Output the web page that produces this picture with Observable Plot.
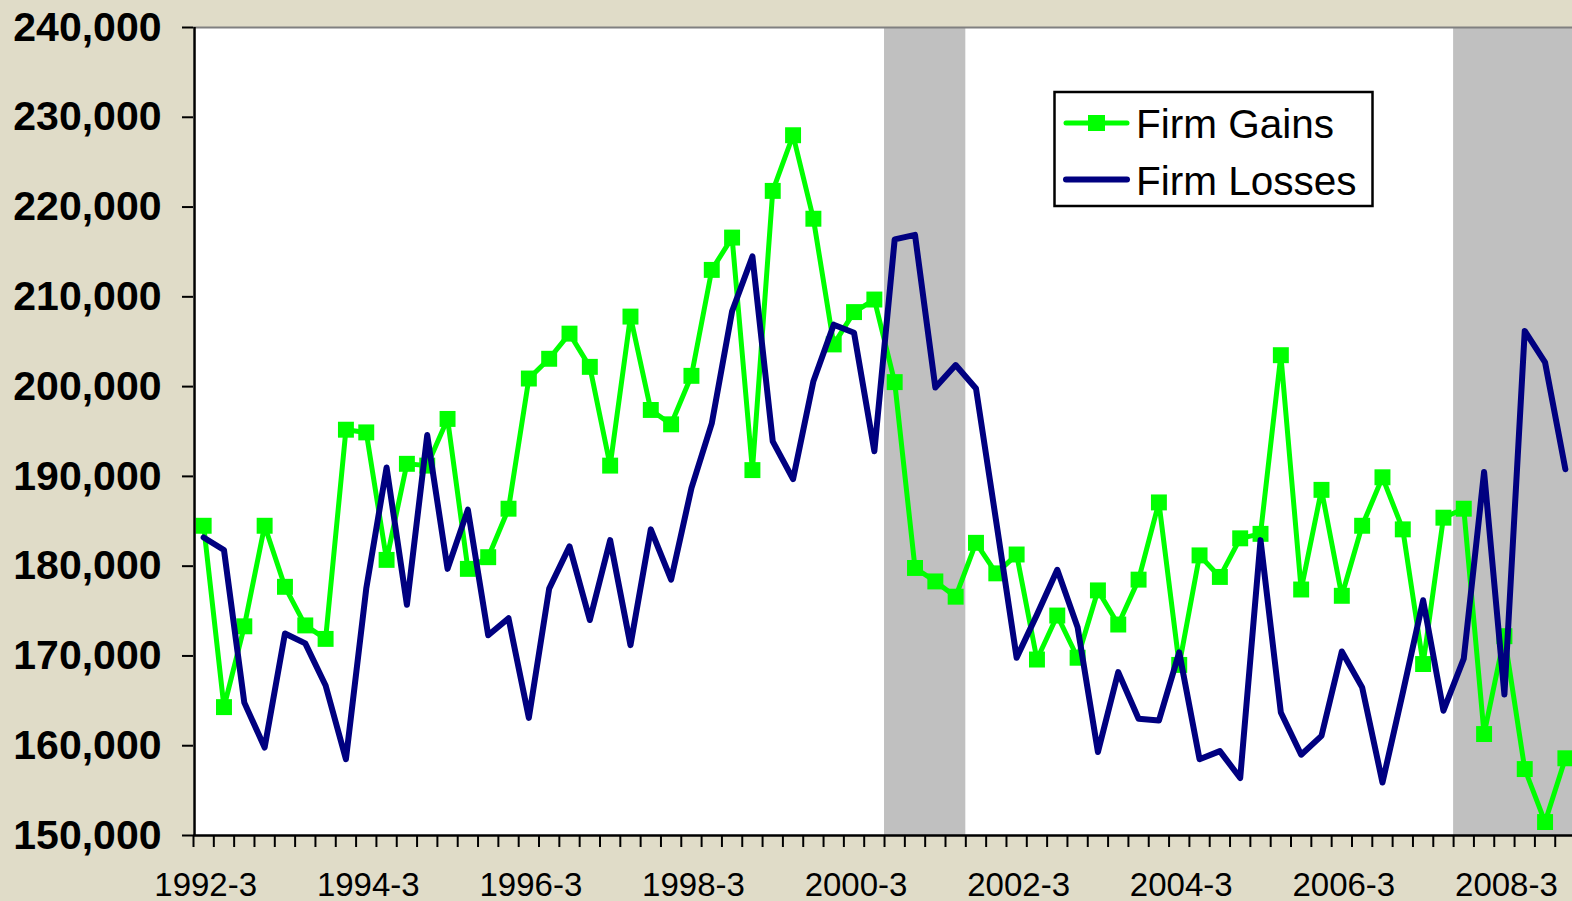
<!DOCTYPE html>
<html>
<head>
<meta charset="utf-8">
<script src="https://cdn.jsdelivr.net/npm/d3@7"></script>
<script src="https://cdn.jsdelivr.net/npm/@observablehq/plot@0.6"></script>
<style>
  html, body { margin: 0; padding: 0; background: #E0DCC8; overflow: hidden; }
  #wrap { position: relative; width: 1572px; height: 901px; }
  #legend { position: absolute; left: 0; top: 0; }
</style>
</head>
<body>
<div id="wrap"></div>
<script>
// Quarterly categories (year-quarter)
const quarters = [
  "1992-3","1992-4",
  "1993-1","1993-2","1993-3","1993-4",
  "1994-1","1994-2","1994-3","1994-4",
  "1995-1","1995-2","1995-3","1995-4",
  "1996-1","1996-2","1996-3","1996-4",
  "1997-1","1997-2","1997-3","1997-4",
  "1998-1","1998-2","1998-3","1998-4",
  "1999-1","1999-2","1999-3","1999-4",
  "2000-1","2000-2","2000-3","2000-4",
  "2001-1","2001-2","2001-3","2001-4",
  "2002-1","2002-2","2002-3","2002-4",
  "2003-1","2003-2","2003-3","2003-4",
  "2004-1","2004-2","2004-3","2004-4",
  "2005-1","2005-2","2005-3","2005-4",
  "2006-1","2006-2","2006-3","2006-4",
  "2007-1","2007-2","2007-3","2007-4",
  "2008-1","2008-2","2008-3","2008-4",
  "2009-1","2009-2"
];

const firmGains = [
  184500,164300,173300,184500,177700,173400,171900,195200,194900,180700,
  191400,191200,196400,179700,181000,186400,200900,203100,205900,202200,
  191200,207800,197400,195800,201200,213000,216600,190700,221800,228000,
  218700,204700,208300,209700,200500,179800,178300,176600,182600,179200,
  181300,169600,174500,169800,177300,173500,178500,187100,169000,181200,
  178800,183100,183600,203500,177400,188500,176700,184500,189900,184100,
  169100,185400,186400,161300,172200,157400,151500,158600
];

const firmLosses = [
  183200,181800,164800,159800,172500,171400,166700,158500,177500,191000,
  175700,194600,179700,186300,172300,174200,163100,177500,182200,174000,
  182900,171200,184100,178500,188700,195900,208400,214500,193900,189700,
  200600,206900,206000,192800,216400,216900,199900,202400,199800,184900,
  169800,174600,179600,173200,159300,168200,163000,162800,170400,158500,
  159400,156400,182900,163700,159000,161100,170500,166500,155900,165900,
  176200,163900,169700,190500,165700,206200,202700,190800
];

// Recession periods (shaded)
const recessions = [
  { from: "2001-1", to: "2001-4" },
  { from: "2008-1", to: "2009-2" }
];

const xTickLabels = ["1992-3","1994-3","1996-3","1998-3","2000-3","2002-3","2004-3","2006-3","2008-3"];
const yTicks = [150000,160000,170000,180000,190000,200000,210000,220000,230000,240000];

const rows = quarters.map((q, i) => ({ i, q, gains: firmGains[i], losses: firmLosses[i] }));
const idx = q => quarters.indexOf(q);
const boundaries = quarters.map((_, i) => i - 0.5);
const labelIdx = xTickLabels.map(idx);

const GREEN = "#00FF00", NAVY = "#000080";
const FONT = "Arial, 'Liberation Sans', sans-serif";

const chart = Plot.plot({
  width: 1572,
  height: 901,
  marginLeft: 193,
  marginRight: 0,
  marginTop: 27,
  marginBottom: 66,
  style: { background: "#E0DCC8", fontFamily: FONT, color: "black", overflow: "visible" },
  x: { type: "linear", domain: [-0.5, 67.35] },
  y: { domain: [150000, 240000] },
  marks: [
    Plot.frame({ fill: "white", stroke: "none" }),
    Plot.rect(recessions, { x1: d => idx(d.from) - 0.5, x2: d => idx(d.to) + 0.5, fill: "#C0C0C0" }),
    Plot.ruleY([240000], { stroke: "#808080", strokeWidth: 2 }),
    Plot.line(rows, { x: "i", y: "gains", stroke: GREEN, strokeWidth: 5, strokeLinejoin: "round", strokeLinecap: "round" }),
    Plot.dot(rows, { x: "i", y: "gains", symbol: "square", r: 9, fill: GREEN, stroke: "none" }),
    Plot.line(rows, { x: "i", y: "losses", stroke: NAVY, strokeWidth: 6, strokeLinejoin: "round", strokeLinecap: "round" }),
    Plot.axisY(yTicks, {
      tickSize: 11, tickPadding: 21, tickFormat: d3.format(","),
      fontSize: 41, fontWeight: "bold", fill: "black", stroke: "black", strokeWidth: 2, label: null
    }),
    Plot.axisX(boundaries, {
      tickSize: 12, tickFormat: () => "", stroke: "black", strokeWidth: 2, label: null
    }),
    Plot.axisX(labelIdx, {
      tickSize: 0, tickPadding: 37, tickFormat: i => quarters[i],
      fontSize: 33, fill: "black", label: null, dx: 2
    }),
    Plot.ruleY([150000], { stroke: "black", strokeWidth: 2.5 }),
    Plot.ruleX([-0.45], { stroke: "black", strokeWidth: 2.5 })
  ]
});

const wrap = document.getElementById("wrap");
wrap.appendChild(chart);

// Legend overlay
const legendItems = [
  { name: "Firm Gains", color: GREEN, marker: true, width: 5 },
  { name: "Firm Losses", color: NAVY, marker: false, width: 6 }
];
const lg = d3.select(wrap).append("svg")
  .attr("id", "legend")
  .attr("width", 1572).attr("height", 901)
  .style("font-family", FONT);
lg.append("rect")
  .attr("x", 1054.5).attr("y", 92).attr("width", 318).attr("height", 114)
  .attr("fill", "white").attr("stroke", "black").attr("stroke-width", 2.5);
legendItems.forEach((item, k) => {
  const cy = 123 + k * 56.5;
  const g = lg.append("g");
  g.append("line")
    .attr("x1", 1066).attr("x2", 1127).attr("y1", cy).attr("y2", cy)
    .attr("stroke", item.color).attr("stroke-width", item.width).attr("stroke-linecap", "round");
  if (item.marker) {
    g.append("rect").attr("x", 1088).attr("y", cy - 8).attr("width", 17).attr("height", 16).attr("fill", item.color);
  }
  g.append("text")
    .attr("x", 1136).attr("y", cy + 15)
    .attr("font-size", 40.5).attr("fill", "black")
    .text(item.name);
});
</script>
</body>
</html>
